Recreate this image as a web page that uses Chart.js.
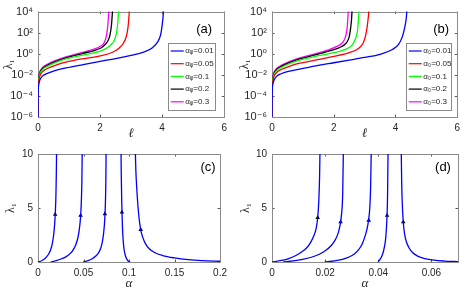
<!DOCTYPE html>
<html><head><meta charset="utf-8">
<script src="https://cdn.jsdelivr.net/npm/chart.js@4/dist/chart.umd.min.js"></script>
<style>
html,body{margin:0;padding:0;background:#fff;width:465px;height:291px;overflow:hidden}
canvas{position:absolute;display:block}
</style></head><body>
<canvas id="ca" width="232" height="143" style="left:0;top:0"></canvas>
<canvas id="cb" width="233" height="143" style="left:232px;top:0"></canvas>
<canvas id="cc" width="232" height="148" style="left:0;top:143px"></canvas>
<canvas id="cd" width="233" height="148" style="left:232px;top:143px"></canvas>
<script>
// ---------- DATA ----------
const alpha0 = ['0.01','0.05','0.1','0.2','0.3'];
const colors = ['#0000ff','#ff0000','#00ff00','#000000','#ff00ff'];
const legendA = alpha0.map(v => 'αᵩ=' + v);
const legendB = alpha0.map(v => 'α₀=' + v);
const logTickVals = [1e-6,1e-4,1e-2,1,1e2,1e4];
const logTickLabels = ['10⁻⁶','10⁻⁴','10⁻²','10⁰','10²','10⁴'];
const ellTicks = [0,2,4,6];
const cXTicks = [0,0.05,0.1,0.15,0.2];
const dXTicks = [0,0.02,0.04,0.06];
const linYTicks = [0,5,10];

// panel (a)
const ellA1 = [0,0.005,0.02,0.06,0.15,0.3,0.5,0.9,1.5,2.0,2.5,3.0,3.4,3.7,3.85,3.95,4.0,4.03,4.05];
const lamA1 = [1e-7,1e-4,1e-3,3.2e-3,7.9e-3,0.014,0.023,0.045,0.1,0.19,0.35,0.71,1.4,4,12.6,63,500,3200,32000];
const ellA2 = [0,0.003,0.015,0.05,0.15,0.3,0.6,0.9,1.4,2.0,2.4,2.6,2.75,2.85,2.9,2.93,2.95];
const lamA2 = [1e-7,1e-4,1.6e-3,6.3e-3,0.02,0.04,0.089,0.16,0.32,0.63,1.4,3.2,10,50,320,3200,32000];
const ellA3 = [0,0.003,0.015,0.05,0.15,0.3,0.6,0.9,1.4,2.0,2.25,2.4,2.5,2.55,2.58,2.6];
const lamA3 = [1e-7,1e-4,2.5e-3,0.01,0.032,0.063,0.16,0.32,0.71,1.8,4,10,40,250,2000,32000];
const ellA4 = [0,0.003,0.015,0.05,0.15,0.3,0.6,0.9,1.4,1.9,2.1,2.25,2.32,2.37,2.39,2.41];
const lamA4 = [1e-7,1e-4,3.2e-3,0.013,0.04,0.079,0.2,0.4,1,2.5,5,16,63,630,4000,32000];
const ellA5 = [0,0.003,0.015,0.05,0.15,0.3,0.6,0.9,1.4,1.8,2.0,2.14,2.21,2.25,2.27,2.29];
const lamA5 = [1e-7,1e-4,4e-3,0.016,0.05,0.1,0.25,0.5,1.26,2.8,4.8,12.6,63,500,3200,32000];

// panel (b)
const ellB1 = [0,0.005,0.02,0.06,0.15,0.3,0.5,0.9,1.5,2.0,2.5,3.0,3.5,3.9,4.1,4.22,4.3,4.35,4.38];
const lamB1 = [1e-7,1e-4,1e-3,2.8e-3,7.1e-3,0.0126,0.02,0.035,0.079,0.14,0.25,0.45,0.89,2.5,7.9,40,320,2500,32000];
const ellB2 = [0,0.003,0.015,0.05,0.15,0.3,0.6,0.9,1.4,2.0,2.5,2.8,2.95,3.03,3.08,3.12,3.15];
const lamB2 = [1e-7,1e-4,1.3e-3,5e-3,0.016,0.032,0.071,0.126,0.25,0.56,1.26,3.2,10,50,320,3200,32000];
const ellB3 = [0,0.003,0.015,0.05,0.15,0.3,0.6,0.9,1.4,2.0,2.4,2.6,2.7,2.77,2.8,2.83];
const lamB3 = [1e-7,1e-4,2e-3,7.9e-3,0.025,0.05,0.126,0.25,0.56,1.26,2.8,7.1,25,160,1600,32000];
const ellB4 = [0,0.003,0.015,0.05,0.15,0.3,0.6,0.9,1.4,1.9,2.2,2.4,2.5,2.55,2.58,2.6];
const lamB4 = [1e-7,1e-4,2.5e-3,0.01,0.032,0.063,0.16,0.32,0.79,2,4,10,40,320,2500,32000];
const ellB5 = [0,0.003,0.015,0.05,0.15,0.3,0.6,0.9,1.4,1.8,2.1,2.3,2.39,2.44,2.46,2.48];
const lamB5 = [1e-7,1e-4,3.2e-3,0.0126,0.04,0.079,0.2,0.4,1,2.2,5,12.6,50,400,3200,32000];

// panel (c)
const alC1 = [0,0.004,0.008,0.011,0.0135,0.0153,0.0167,0.0178,0.0186,0.0192,0.0197,0.0201,0.0205];
const lamC1 = [0,0.12,0.35,0.65,1.05,1.55,2.2,3.0,3.9,4.9,6.2,8.0,11];
const alC2 = [0.014,0.02,0.026,0.031,0.035,0.0385,0.0415,0.0437,0.0452,0.0463,0.0471,0.0477,0.0482,0.0487];
const lamC2 = [0,0.12,0.3,0.5,0.75,1.1,1.6,2.2,2.9,3.7,4.6,5.8,7.5,11];
const alC3 = [0.0496,0.055,0.0595,0.0635,0.0665,0.069,0.0708,0.072,0.0729,0.0736,0.0741,0.0745,0.0749];
const lamC3 = [0,0.12,0.3,0.55,0.85,1.3,1.9,2.6,3.4,4.4,5.6,7.3,11];
const alC4 = [0.0911,0.0915,0.0919,0.0923,0.0928,0.0935,0.0945,0.0958,0.0972,0.0988,0.1002,0.1012];
const lamC4 = [11,8,6,4.5,3.2,2.1,1.2,0.65,0.32,0.12,0.03,0];
const alC5 = [0.1067,0.1075,0.1085,0.1097,0.111,0.1128,0.115,0.118,0.122,0.128,0.137,0.15,0.165,0.18,0.2];
const lamC5 = [11,8.5,6.8,5.3,4.1,3.0,2.3,1.7,1.25,0.88,0.6,0.38,0.22,0.13,0.07];
const markAlC = [0.0189,0.0468,0.0735,0.0922,0.1128];
const markLamC = [4.4,4.3,4.45,4.6,3.0];

// panel (d)
const alD1 = [0,0.003,0.006,0.009,0.011,0.013,0.0145,0.0157,0.0166,0.0172,0.0176,0.0179,0.0181];
const lamD1 = [0,0.12,0.3,0.6,0.9,1.3,1.8,2.4,3.1,4.1,5.6,7.8,11];
const alD2 = [0.0042,0.008,0.0115,0.0148,0.0178,0.0203,0.0222,0.0237,0.0248,0.0256,0.0262,0.0266,0.0269];
const lamD2 = [0,0.1,0.24,0.44,0.72,1.08,1.5,2.0,2.6,3.4,4.5,6.3,11];
const alD3 = [0.0198,0.0235,0.0265,0.029,0.031,0.0326,0.0339,0.0349,0.0357,0.0363,0.0368,0.0371,0.0374];
const lamD3 = [0,0.1,0.25,0.46,0.75,1.15,1.65,2.3,3.0,3.8,5.0,6.8,11];
const alD4 = [0.0399,0.0405,0.041,0.0415,0.0419,0.0423,0.0427,0.043,0.0433,0.0435,0.0437];
const lamD4 = [0,0.18,0.38,0.65,0.95,1.4,2.0,2.9,4.3,6.3,11];
const alD5 = [0.0486,0.0488,0.049,0.0494,0.0499,0.0506,0.0516,0.053,0.0548,0.0575,0.061,0.065,0.07];
const lamD5 = [11,7.5,5.6,3.7,2.6,1.85,1.3,0.85,0.55,0.32,0.17,0.09,0.04];
const markAlD = [0.0172,0.0258,0.0364,0.0433,0.0494];
const markLamD = [4.1,3.7,3.85,4.3,3.7];

// ---------- HELPERS ----------
const zip = (xs, ys) => xs.map((x, i) => ({x, y: ys[i]}));
const TXT = '#262626';
const FONT = '"Liberation Sans", Arial, "DejaVu Sans", sans-serif';

const decor = {
  id: 'decor',
  beforeDatasetsDraw(chart) {
    const {ctx, chartArea: a, scales} = chart;
    ctx.save();
    ctx.strokeStyle = '#555'; ctx.lineWidth = 1;
    ctx.beginPath();
    scales.x.ticks.forEach(t => {
      const px = Math.round(scales.x.getPixelForValue(t.value)) + 0.5;
      ctx.moveTo(px, a.bottom); ctx.lineTo(px, a.bottom - 2.5);
      ctx.moveTo(px, a.top); ctx.lineTo(px, a.top + 2.5);
    });
    scales.y.ticks.forEach(t => {
      const py = Math.round(scales.y.getPixelForValue(t.value)) + 0.5;
      ctx.moveTo(a.left, py); ctx.lineTo(a.left + 2.5, py);
      ctx.moveTo(a.right, py); ctx.lineTo(a.right - 2.5, py);
    });
    ctx.stroke();
    ctx.strokeStyle = '#8a8a8a';
    ctx.strokeRect(Math.round(a.left) + 0.5, Math.round(a.top) + 0.5,
                   Math.round(a.right - a.left), Math.round(a.bottom - a.top));
    ctx.restore();
  },
  afterDatasetsDraw(chart, args, o) {
    const {ctx, chartArea: a} = chart;
    ctx.save();
    ctx.fillStyle = '#000';
    ctx.font = '13px ' + FONT;
    ctx.textAlign = 'center'; ctx.textBaseline = 'middle';
    ctx.fillText(o.label, a.right - o.lx, a.top + o.ly);
    if (o.legend) {
      const L = o.legend;
      const x1 = a.right - L.r, x0 = x1 - L.w;
      const y1 = a.bottom - L.b, y0 = y1 - L.h;
      ctx.fillStyle = '#fff';
      ctx.fillRect(x0, y0, L.w, L.h);
      ctx.strokeStyle = '#8a8a8a'; ctx.lineWidth = 1;
      ctx.strokeRect(Math.round(x0) + 0.5, Math.round(y0) + 0.5, Math.round(L.w), Math.round(L.h));
      ctx.font = '8px ' + FONT;
      ctx.textAlign = 'left'; ctx.textBaseline = 'middle';
      L.items.forEach((txt, i) => {
        const yy = y0 + L.first + i * L.step;
        ctx.strokeStyle = L.colors[i]; ctx.lineWidth = 1.2;
        ctx.beginPath(); ctx.moveTo(x0 + 2.5, yy); ctx.lineTo(x0 + 15.5, yy); ctx.stroke();
        ctx.fillStyle = TXT;
        ctx.fillText(txt, x0 + 17, yy);
      });
    }
    ctx.restore();
  }
};

function makePanel(id, opt) {
  const canvas = document.getElementById(id);
  const H = canvas.height, W = canvas.width;
  new Chart(canvas, {
    type: 'line',
    data: {datasets: opt.datasets},
    options: {
      responsive: false, animation: false,
      layout: {padding: {left: 0, top: opt.area.top, right: W - opt.area.right, bottom: 0}},
      plugins: {legend: {display: false}, tooltip: {enabled: false}, decor: opt.decor},
      elements: {point: {radius: 0}, line: {borderWidth: 1.3, cubicInterpolationMode: 'monotone'}},
      scales: {
        x: {
          type: 'linear', min: opt.xMin, max: opt.xMax,
          afterBuildTicks: s => { s.ticks = opt.xTicks.map(v => ({value: v})); },
          afterFit: s => { s.height = H - opt.area.bottom; },
          grid: {display: false, drawTicks: false}, border: {display: false},
          ticks: {color: TXT, font: {size: 10, family: FONT}, padding: 5, maxRotation: 0,
                  callback: v => String(v)},
          title: {display: true, text: opt.xTitle, color: TXT,
                  font: {size: 13, family: '"Liberation Serif","DejaVu Serif",serif', style: 'italic', lineHeight: 1.1},
                  padding: {top: 0, bottom: opt.xTitlePad}}
        },
        y: {
          type: opt.yType, min: opt.yMin, max: opt.yMax,
          afterBuildTicks: s => { s.ticks = opt.yTicks.map(v => ({value: v})); },
          afterFit: s => { s.width = opt.area.left; },
          grid: {display: false, drawTicks: false}, border: {display: false},
          ticks: {color: TXT, font: {size: opt.yFont, family: FONT}, padding: 5,
                  callback: opt.yLabel},
          title: {display: true, text: 'λ₁', color: TXT,
                  font: {size: 12, family: '"Liberation Serif","DejaVu Serif",serif', lineHeight: 1.1},
                  padding: {top: opt.yTitlePad, bottom: 0}}
        }
      }
    },
    plugins: [decor]
  });
}

function lineSet(data, color) {
  return {data, borderColor: color, backgroundColor: color, fill: false, pointRadius: 0};
}
function markSet(data) {
  return {data, showLine: false, pointStyle: 'triangle', pointRadius: 2.6,
          pointBackgroundColor: '#000', pointBorderColor: '#000', pointBorderWidth: 0};
}
const logLabel = v => { const i = logTickVals.findIndex(t => Math.abs(t - v) / t < 1e-6); return i >= 0 ? logTickLabels[i] : ''; };

const aSets = [[ellA1,lamA1],[ellA2,lamA2],[ellA3,lamA3],[ellA4,lamA4],[ellA5,lamA5]]
  .map((p, i) => lineSet(zip(p[0], p[1]), colors[i]));
const bSets = [[ellB1,lamB1],[ellB2,lamB2],[ellB3,lamB3],[ellB4,lamB4],[ellB5,lamB5]]
  .map((p, i) => lineSet(zip(p[0], p[1]), colors[i]));
const cSets = [[alC1,lamC1],[alC2,lamC2],[alC3,lamC3],[alC4,lamC4],[alC5,lamC5]]
  .map(p => lineSet(zip(p[0], p[1]), '#0000ff')).concat([markSet(zip(markAlC, markLamC))]);
const dSets = [[alD1,lamD1],[alD2,lamD2],[alD3,lamD3],[alD4,lamD4],[alD5,lamD5]]
  .map(p => lineSet(zip(p[0], p[1]), '#0000ff')).concat([markSet(zip(markAlD, markLamD))]);

makePanel('ca', {
  datasets: aSets, area: {left: 38, top: 6, right: 227, bottom: 117},
  xMin: 0, xMax: 6, xTicks: ellTicks, xTitle: 'ℓ', xTitlePad: 2,
  yType: 'logarithmic', yMin: 1e-6, yMax: 1e4, yTicks: logTickVals, yLabel: logLabel, yFont: 11, yTitlePad: 2,
  decor: {label: '(a)', lx: 20, ly: 18,
          legend: {r: 9, b: 7, w: 47, h: 67, first: 8, step: 12.7, items: legendA, colors}}
});
makePanel('cb', {
  datasets: bSets, area: {left: 40, top: 6, right: 226, bottom: 117},
  xMin: 0, xMax: 6, xTicks: ellTicks, xTitle: 'ℓ', xTitlePad: 2,
  yType: 'logarithmic', yMin: 1e-6, yMax: 1e4, yTicks: logTickVals, yLabel: logLabel, yFont: 11, yTitlePad: 6,
  decor: {label: '(b)', lx: 16, ly: 18,
          legend: {r: 6, b: 7, w: 45, h: 67, first: 8, step: 12.7, items: legendB, colors}}
});
makePanel('cc', {
  datasets: cSets, area: {left: 38, top: 9, right: 223, bottom: 119},
  xMin: 0, xMax: 0.2, xTicks: cXTicks, xTitle: 'α', xTitlePad: 0,
  yType: 'linear', yMin: 0, yMax: 10, yTicks: linYTicks, yLabel: v => String(v), yFont: 10, yTitlePad: 4,
  decor: {label: '(c)', lx: 12, ly: 13}
});
makePanel('cd', {
  datasets: dSets, area: {left: 40, top: 9, right: 226, bottom: 119},
  xMin: 0, xMax: 0.07, xTicks: dXTicks, xTitle: 'α', xTitlePad: 0,
  yType: 'linear', yMin: 0, yMax: 10, yTicks: linYTicks, yLabel: v => String(v), yFont: 10, yTitlePad: 7,
  decor: {label: '(d)', lx: 15, ly: 13}
});
</script>
</body></html>
